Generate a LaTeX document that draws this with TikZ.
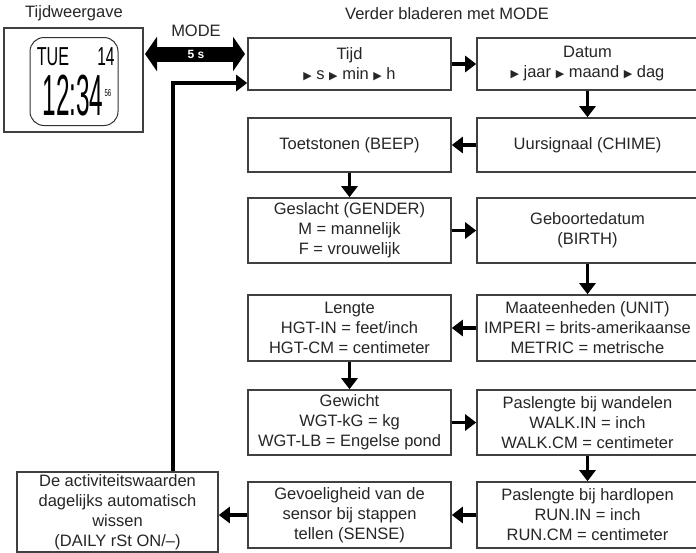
\documentclass[tikz,border=0pt]{standalone}
\usepackage{fontspec}
\setmainfont{Liberation Sans}
\newfontfamily\symfont{DejaVu Sans}
\usetikzlibrary{arrows.meta}
\newcommand{\tri}{{\symfont\fontsize{11}{11}\selectfont ▶}}
\begin{document}
\begin{tikzpicture}[x=1pt,y=-1pt,
  box/.style={draw=black!75, line width=1.6pt, align=center, inner sep=0pt, text=black!85, font=\fontsize{16.5}{20}\selectfont},
  lbox/.style={box, minimum width=203pt},
  rbox/.style={box, minimum width=221pt},
  arr/.style={line width=3.5pt, -{Triangle[length=11pt,width=16pt]}},
  lbl/.style={font=\fontsize{16.5}{20}\selectfont, text=black!85, inner sep=0pt},
  lcd/.style={inner sep=0pt}
]
\useasboundingbox[fill=white] (0,0) rectangle (696,552);

% titles
\node[lbl] (t1) at (74,13) {Tijdweergave};
\node[lbl] (t2) at (447,14) {Verder bladeren met MODE};
\node[lbl] (mode) at (196,31) {MODE};

% watch
\node[draw=black!75, line width=2.2pt, minimum width=139pt, minimum height=104pt, inner sep=0pt] (watch) at (73.5,80) {};
\node[draw=black!80, line width=1pt, rounded corners=14pt, minimum width=88pt, minimum height=88pt, inner sep=0pt] (screen) at (74,81.5) {};
\node[lcd] (tue) at (53,57) {\scalebox{0.62}[1]{\fontsize{26}{26}\selectfont TUE}};
\node[lcd] (day) at (106,57) {\scalebox{0.6}[1]{\fontsize{26}{26}\selectfont 14}};
\node[lcd] (clock) at (73,96) {\scalebox{0.42}[1]{\fontsize{58}{58}\selectfont 12:34}};
\node[lcd] (sec) at (108,93) {\scalebox{0.6}[1]{\fontsize{10}{10}\selectfont 56}};

% boxes
\node[lbox, minimum height=52pt] (tijd) at (349.5,64) {Tijd\\\tri\ s \tri\ min \tri\ h};
\node[rbox, minimum height=52pt] (datum) at (587.5,64) {Datum\\\tri\ jaar \tri\ maand \tri\ dag};
\node[lbox, minimum height=54pt] (beep) at (349.5,145) {Toetstonen (BEEP)};
\node[rbox, minimum height=54pt] (chime) at (587.5,145) {Uursignaal (CHIME)};
\node[lbox, minimum height=65pt] (gender) at (349.5,230.5) {Geslacht (GENDER)\\M = mannelijk\\F = vrouwelijk};
\node[rbox, minimum height=65pt] (birth) at (587.5,230.5) {Geboortedatum\\(BIRTH)};
\node[lbox, minimum height=66pt] (lengte) at (349.5,328) {Lengte\\HGT-IN = feet/inch\\HGT-CM = centimeter};
\node[rbox, minimum height=66pt] (unit) at (587.5,328) {Maateenheden (UNIT)\\IMPERI = brits-amerikaanse\\METRIC = metrische};
\node[lbox, minimum height=65pt] (gewicht) at (349.5,422.5) {Gewicht\\WGT-kG = kg\\WGT-LB = Engelse pond};
\node[rbox, minimum height=65pt] (walk) at (587.5,422.5) {Paslengte bij wandelen\\WALK.IN = inch\\WALK.CM = centimeter};
\node[lbox, minimum height=66pt] (sense) at (349.5,515) {Gevoeligheid van de\\sensor bij stappen\\tellen (SENSE)};
\node[rbox, minimum height=66pt] (run) at (587.5,515) {Paslengte bij hardlopen\\RUN.IN = inch\\RUN.CM = centimeter};
\node[box, minimum width=201pt, minimum height=80pt] (act) at (117.5,512) {De activiteitswaarden\\dagelijks automatisch\\wissen\\(DAILY rSt ON/--)};

% MODE double arrow
\coordinate (ma) at (145,54);
\coordinate (mb) at (245,54);
\draw[line width=15pt, {Triangle[length=12pt,width=34pt]}-{Triangle[length=12pt,width=34pt]}] (ma) -- (mb);
\node[text=white, font=\bfseries\fontsize{12}{12}\selectfont, inner sep=0pt] (fives) at (196,54) {5 s};

% flow arrows
\draw[arr] (tijd) -- (datum);
\draw[arr] (datum) -- (chime);
\draw[arr] (chime) -- (beep);
\draw[arr] (beep) -- (gender);
\draw[arr] (gender) -- (birth);
\draw[arr] (birth) -- (unit);
\draw[arr] (unit) -- (lengte);
\draw[arr] (lengte) -- (gewicht);
\draw[arr] (gewicht) -- (walk);
\draw[arr] (walk) -- (run);
\draw[arr] (run) -- (sense);
\draw[arr] (sense) -- (act.east |- sense);

% return line
\coordinate (ret) at (173,83);
\draw[arr] (act.north -| ret) |- (tijd.west |- ret);
\end{tikzpicture}
\end{document}
